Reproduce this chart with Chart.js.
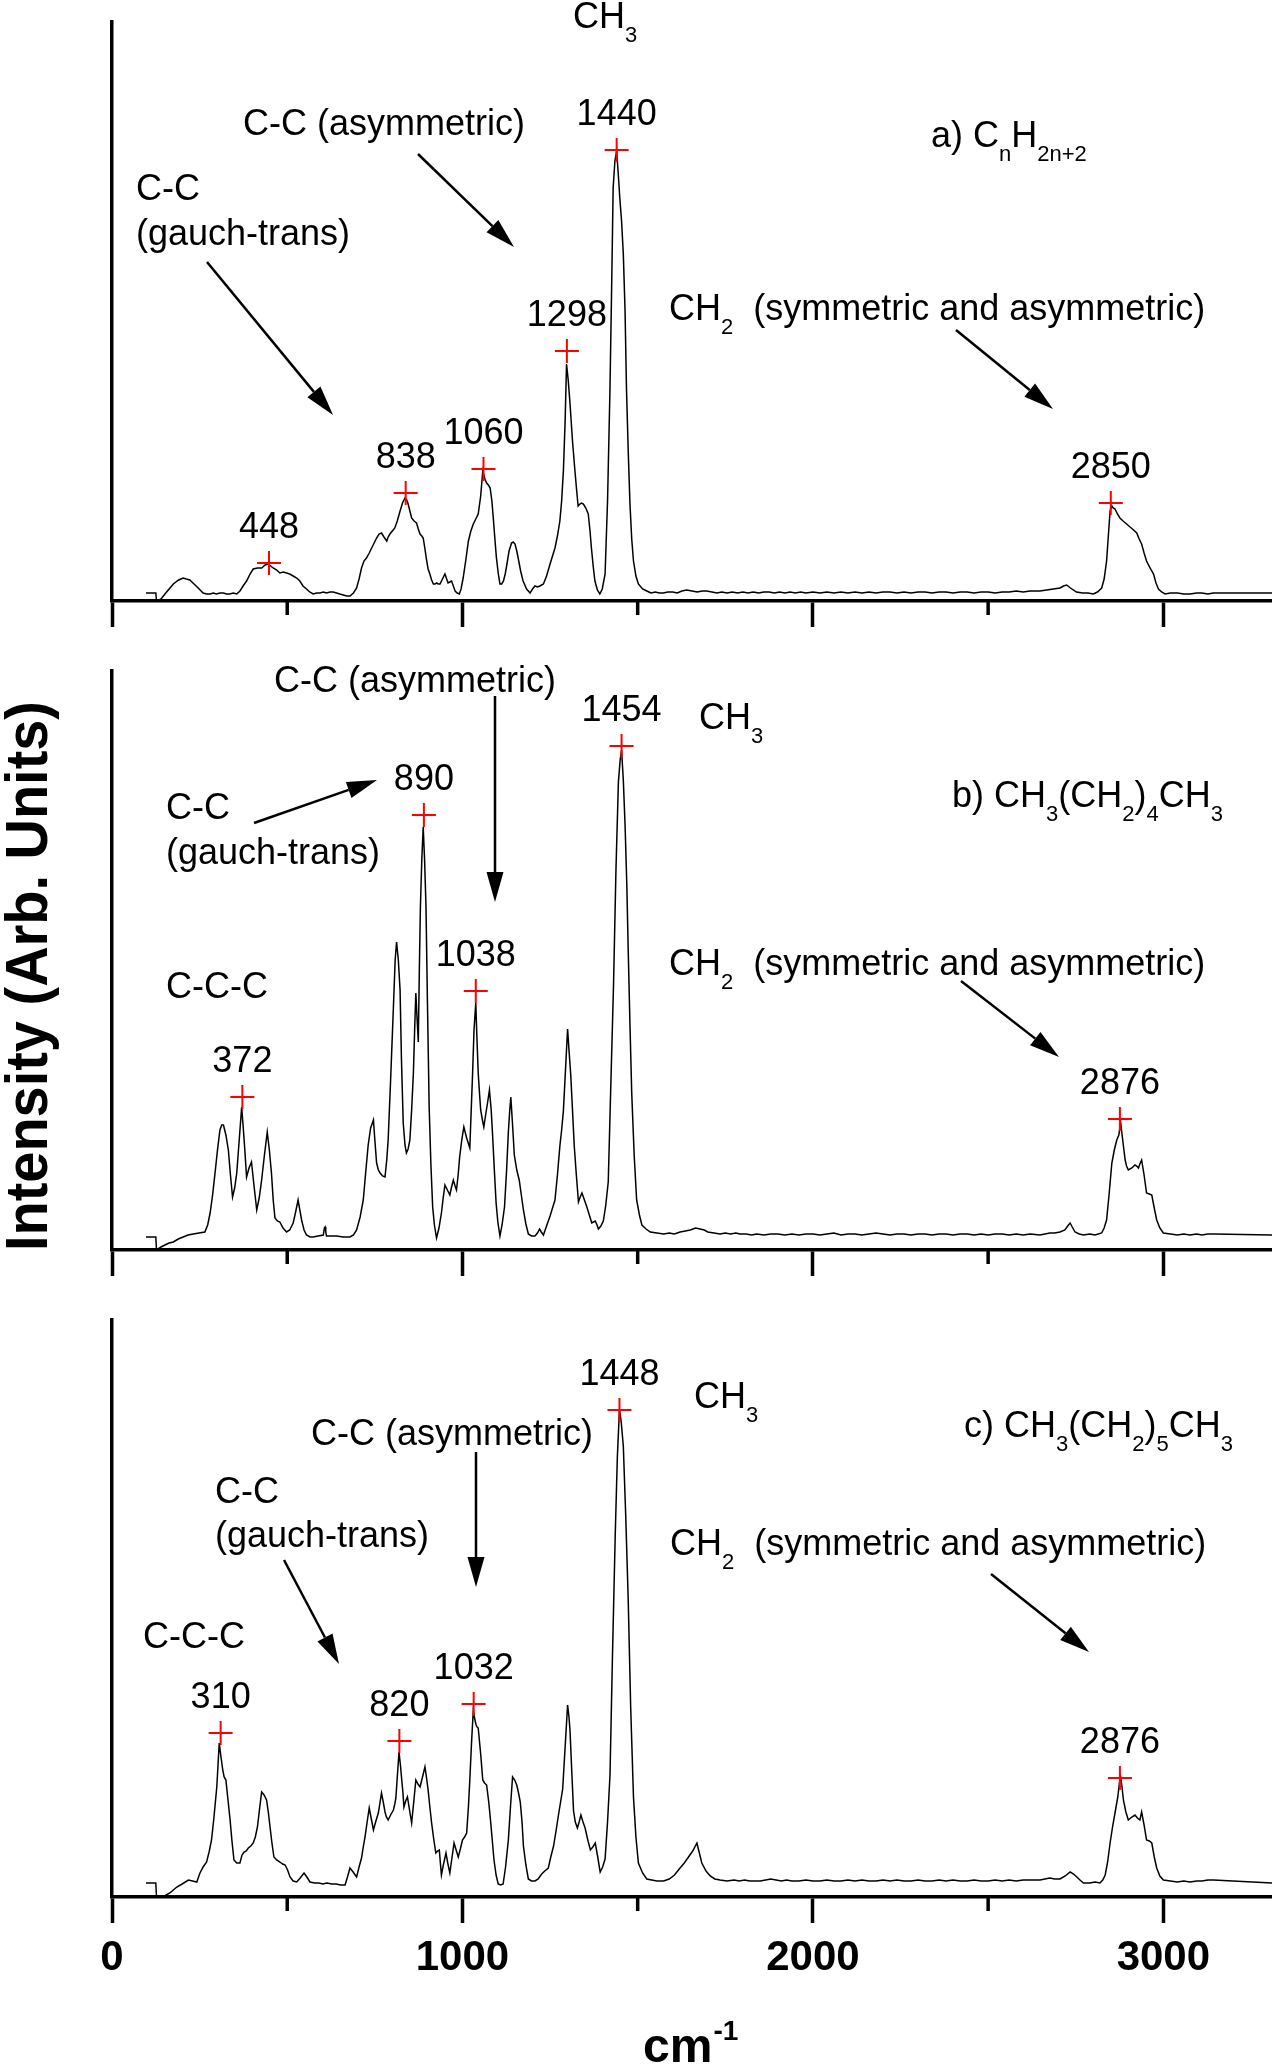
<!DOCTYPE html>
<html>
<head>
<meta charset="utf-8">
<script src="https://cdn.jsdelivr.net/npm/chart.js@4.4.1/dist/chart.umd.min.js"></script>
<style>
  html, body { margin: 0; padding: 0; background: #fff; }
  #Page { position: relative; width: 1272px; height: 2069px; overflow: hidden; background: #fff; }
  #Page canvas { position: absolute; left: 0; }
</style>
</head>
<body>
<div id="Page">
  <canvas id="Panel_A" width="1272" height="660" style="top:0px"></canvas>
  <canvas id="Panel_B" width="1272" height="640" style="top:660px"></canvas>
  <canvas id="Panel_C" width="1272" height="769" style="top:1300px"></canvas>
</div>
<script>
// Raman shift (cm-1), intensity (arb. units)
const Spectrum_A = [[97,8],[125,8],[127,0],[140,2],[151,7],[163,12],[175,17],[190,21],[203,23],[212,22],[222,21],[234,17],[246,13],[260,8],[270,7],[280,7],[289,8],[298,7],[308,8],[318,8],[327,7],[336,7],[346,8],[356,7],[365,10],[374,15],[384,20],[394,27],[403,32],[415,33],[427,33],[437,36],[446,37],[453,35],[460,33],[470,31],[479,28],[489,29],[498,28],[507,27],[517,25],[527,23],[536,20],[545,15],[555,12],[564,9],[574,7],[584,8],[593,8],[603,9],[612,8],[622,9],[631,9],[641,8],[650,7],[660,6],[670,5],[679,5],[689,8],[698,13],[705,22],[712,33],[719,40],[726,43],[734,48],[741,53],[748,58],[755,63],[762,67],[769,68],[776,64],[784,60],[788,64],[793,67],[800,70],[807,73],[814,80],[822,90],[829,98],[836,103],[841,101],[845,97],[850,90],[855,83],[862,80],[869,78],[874,72],[879,67],[884,65],[888,63],[893,52],[898,40],[902,32],[907,27],[912,21],[917,17],[922,17],[926,18],[931,17],[936,17],[943,22],[950,27],[955,22],[959,18],[964,19],[969,20],[974,15],[979,10],[985,8],[991,7],[996,12],[1002,23],[1010,42],[1017,60],[1024,70],[1031,77],[1038,82],[1045,87],[1052,105],[1058,130],[1064,122],[1069,118],[1074,116],[1079,113],[1084,100],[1088,83],[1093,60],[1097,43],[1102,28],[1107,17],[1112,17],[1117,20],[1122,27],[1126,35],[1133,50],[1140,58],[1145,59],[1150,57],[1155,50],[1159,43],[1166,30],[1173,20],[1183,12],[1193,8],[1200,12],[1207,15],[1214,14],[1221,15],[1231,17],[1240,25],[1250,37],[1257,45],[1264,53],[1271,65],[1278,80],[1283,100],[1288,130],[1293,180],[1297,237],[1302,220],[1307,197],[1314,160],[1321,130],[1326,110],[1330,95],[1335,97],[1340,98],[1345,97],[1352,93],[1359,87],[1364,70],[1368,53],[1373,35],[1378,20],[1385,11],[1392,7],[1399,12],[1407,27],[1414,100],[1421,213],[1426,320],[1430,413],[1435,440],[1440,450],[1445,425],[1449,403],[1454,380],[1459,347],[1464,290],[1468,213],[1473,150],[1478,97],[1483,62],[1488,40],[1495,25],[1502,17],[1514,12],[1526,10],[1538,8],[1550,9],[1562,8],[1573,8],[1586,9],[1600,9],[1613,8],[1626,10],[1640,11],[1655,10],[1670,9],[1684,10],[1697,10],[1712,9],[1726,8],[1740,9],[1755,8],[1770,9],[1785,8],[1800,9],[1815,8],[1830,9],[1845,8],[1860,9],[1875,9],[1890,8],[1905,9],[1920,8],[1935,9],[1950,8],[1965,9],[1980,8],[2000,9],[2020,8],[2040,9],[2060,8],[2080,9],[2100,8],[2120,9],[2140,8],[2160,9],[2180,8],[2200,9],[2220,9],[2240,8],[2260,9],[2280,8],[2300,9],[2320,9],[2340,8],[2360,9],[2380,9],[2400,8],[2420,9],[2440,9],[2460,8],[2480,9],[2500,9],[2520,8],[2540,9],[2560,9],[2580,10],[2600,9],[2620,10],[2648,10],[2667,11],[2686,12],[2705,13],[2715,15],[2724,16],[2735,13],[2752,9],[2770,8],[2785,8],[2800,7],[2812,9],[2824,13],[2831,22],[2838,40],[2843,65],[2848,90],[2853,95],[2857,93],[2862,92],[2869,87],[2876,83],[2885,80],[2895,77],[2905,74],[2915,71],[2924,68],[2931,62],[2938,57],[2945,48],[2952,40],[2962,33],[2972,27],[2979,18],[2986,12],[2995,9],[3005,7],[3020,8],[3040,8],[3058,7],[3076,7],[3095,8],[3110,8],[3127,7],[3143,8],[3160,8],[3181,8],[3310,8]];

const Spectrum_B = [[97,13],[125,13],[127,0],[140,3],[151,5],[163,7],[175,8],[189,11],[203,13],[217,15],[232,16],[248,17],[265,18],[273,25],[280,37],[287,55],[294,77],[301,100],[308,120],[313,125],[318,125],[325,115],[332,100],[338,75],[344,53],[350,62],[356,77],[363,110],[370,143],[375,120],[379,100],[384,73],[391,82],[398,88],[405,65],[413,40],[420,52],[427,70],[435,95],[443,118],[449,100],[455,77],[460,50],[465,32],[472,29],[479,28],[488,22],[498,18],[507,20],[517,27],[524,38],[531,50],[536,40],[541,30],[548,20],[555,15],[565,13],[574,13],[588,14],[603,15],[606,22],[608,23],[610,18],[612,14],[626,14],[641,14],[660,13],[679,13],[689,15],[698,20],[708,33],[717,50],[724,78],[731,105],[738,122],[746,130],[750,110],[755,87],[760,80],[765,77],[772,74],[779,73],[784,90],[788,110],[795,170],[803,243],[808,290],[812,308],[817,290],[822,260],[826,190],[831,127],[836,105],[840,97],[845,101],[850,110],[855,140],[860,177],[864,225],[867,257],[870,235],[874,208],[877,280],[880,343],[884,390],[888,423],[892,390],[896,343],[900,250],[905,143],[910,85],[915,43],[920,25],[926,12],[933,22],[940,37],[945,52],[950,65],[957,60],[964,55],[969,63],[974,70],[979,64],[983,60],[988,76],[992,93],[998,110],[1004,123],[1012,112],[1021,102],[1025,140],[1029,177],[1033,220],[1038,247],[1041,215],[1045,177],[1049,155],[1052,140],[1057,130],[1061,123],[1064,130],[1067,137],[1072,148],[1077,160],[1082,140],[1086,115],[1091,80],[1096,47],[1101,28],[1107,14],[1113,25],[1120,43],[1126,80],[1131,118],[1135,140],[1138,153],[1143,125],[1148,95],[1155,80],[1162,70],[1168,55],[1174,40],[1181,26],[1188,16],[1197,14],[1207,14],[1214,17],[1220,21],[1225,18],[1231,15],[1240,24],[1250,34],[1257,42],[1264,50],[1271,75],[1278,104],[1283,120],[1288,139],[1294,180],[1300,221],[1304,200],[1309,175],[1314,140],[1319,104],[1325,75],[1331,48],[1336,53],[1341,57],[1348,50],[1355,43],[1362,35],[1369,27],[1374,28],[1379,29],[1384,25],[1388,21],[1395,24],[1402,29],[1409,45],[1416,68],[1423,160],[1431,264],[1438,380],[1445,468],[1450,490],[1454,500],[1459,470],[1464,425],[1469,365],[1473,300],[1478,225],[1483,157],[1490,95],[1497,50],[1505,35],[1512,25],[1524,21],[1536,18],[1555,17],[1574,16],[1590,17],[1605,16],[1621,18],[1636,19],[1650,20],[1665,22],[1678,21],[1690,20],[1700,18],[1718,17],[1735,16],[1750,17],[1765,16],[1780,17],[1792,16],[1810,16],[1825,15],[1840,16],[1860,15],[1880,16],[1900,16],[1920,15],[1940,16],[1960,15],[1980,16],[2000,16],[2020,15],[2040,16],[2060,17],[2080,15],[2100,16],[2120,16],[2140,15],[2160,16],[2180,17],[2200,16],[2220,15],[2240,16],[2260,16],[2280,15],[2300,16],[2320,16],[2340,15],[2360,16],[2380,16],[2400,15],[2420,16],[2440,16],[2460,15],[2480,16],[2500,15],[2520,16],[2540,16],[2560,15],[2580,16],[2600,15],[2620,16],[2648,15],[2662,16],[2676,17],[2690,17],[2705,18],[2719,20],[2727,24],[2734,27],[2740,23],[2748,18],[2760,16],[2772,15],[2790,16],[2805,15],[2824,17],[2831,22],[2838,30],[2845,55],[2853,87],[2860,100],[2867,110],[2873,115],[2878,128],[2884,110],[2891,90],[2895,84],[2900,80],[2910,82],[2919,85],[2924,84],[2929,82],[2933,86],[2938,90],[2945,75],[2952,57],[2960,56],[2967,55],[2974,42],[2981,30],[2990,22],[3000,17],[3020,16],[3040,15],[3058,16],[3076,15],[3095,16],[3110,15],[3127,16],[3143,16],[3310,15]];

const Spectrum_C = [[97,14],[125,14],[127,0],[150,1],[165,4],[175,7],[185,10],[200,13],[218,17],[230,16],[242,15],[247,20],[251,24],[260,30],[270,35],[277,45],[284,57],[291,80],[299,110],[303,135],[306,154],[311,140],[316,127],[320,120],[325,117],[331,97],[337,77],[342,57],[348,37],[356,34],[365,34],[371,42],[377,45],[383,46],[389,49],[396,51],[403,54],[409,60],[415,70],[421,88],[427,105],[434,102],[441,97],[446,85],[451,70],[456,55],[462,40],[470,37],[479,35],[487,33],[494,32],[501,27],[508,20],[517,16],[527,15],[537,19],[548,24],[556,20],[565,15],[578,14],[590,14],[602,13],[613,14],[627,13],[640,13],[652,12],[665,12],[672,20],[679,29],[688,25],[698,20],[705,30],[712,39],[717,50],[722,60],[728,75],[734,89],[740,78],[746,67],[753,76],[760,84],[765,95],[769,104],[774,95],[779,85],[783,80],[788,77],[795,82],[803,87],[807,93],[810,99],[815,125],[819,145],[823,132],[826,120],[830,105],[833,90],[838,96],[843,100],[849,87],[855,74],[861,95],[867,117],[873,113],[879,110],[886,120],[893,130],[898,118],[902,107],[907,90],[912,74],[918,58],[924,44],[929,46],[934,47],[937,34],[940,22],[946,33],[953,44],[958,34],[964,24],[970,39],[976,54],[982,47],[988,40],[994,48],[1000,57],[1006,60],[1012,64],[1017,90],[1021,117],[1026,155],[1031,187],[1035,178],[1039,172],[1042,170],[1045,169],[1052,143],[1058,117],[1063,114],[1069,112],[1075,95],[1080,77],[1085,57],[1090,37],[1096,22],[1102,13],[1109,12],[1116,13],[1123,30],[1131,57],[1137,90],[1143,120],[1149,117],[1155,112],[1160,104],[1165,95],[1170,75],[1174,51],[1181,32],[1188,18],[1197,16],[1207,16],[1216,18],[1226,23],[1235,26],[1245,29],[1252,40],[1260,51],[1267,66],[1274,82],[1280,95],[1286,108],[1293,150],[1300,192],[1304,180],[1307,166],[1312,125],[1317,86],[1322,75],[1328,69],[1333,75],[1338,82],[1344,75],[1350,69],[1357,58],[1365,47],[1372,50],[1379,54],[1386,40],[1393,25],[1400,30],[1407,38],[1414,75],[1421,122],[1428,240],[1436,363],[1442,440],[1448,488],[1453,475],[1459,451],[1466,380],[1473,297],[1480,190],[1488,100],[1495,60],[1502,34],[1514,24],[1526,18],[1540,17],[1555,16],[1574,16],[1590,18],[1605,22],[1621,29],[1633,34],[1645,40],[1657,46],[1669,54],[1676,44],[1683,34],[1695,26],[1707,21],[1720,18],[1735,17],[1755,16],[1775,17],[1790,16],[1805,17],[1820,16],[1835,16],[1850,16],[1865,17],[1880,18],[1895,17],[1910,16],[1925,17],[1940,16],[1960,16],[1980,17],[2000,16],[2020,16],[2040,17],[2060,16],[2080,16],[2100,17],[2120,16],[2140,17],[2160,16],[2180,16],[2200,17],[2220,16],[2240,17],[2260,16],[2280,16],[2300,17],[2320,16],[2340,16],[2360,17],[2380,16],[2400,17],[2420,16],[2440,16],[2460,17],[2480,16],[2500,16],[2520,17],[2540,16],[2560,17],[2580,16],[2600,17],[2620,17],[2648,17],[2662,18],[2676,19],[2690,18],[2705,18],[2720,21],[2734,25],[2744,23],[2753,20],[2762,17],[2772,14],[2790,14],[2805,15],[2819,14],[2827,17],[2834,22],[2841,35],[2848,54],[2855,70],[2862,84],[2870,100],[2875,115],[2878,120],[2882,110],[2886,97],[2893,85],[2900,77],[2910,80],[2919,82],[2926,79],[2933,77],[2938,85],[2945,72],[2952,57],[2960,56],[2967,54],[2974,40],[2981,29],[2990,21],[3000,17],[3020,16],[3040,15],[3058,16],[3076,15],[3095,16],[3110,16],[3127,17],[3143,17],[3310,14]];

// marked peaks
const Peak_A_X = [448, 838, 1060, 1298, 1440, 2850];
const Peak_A_Y = [38, 108, 132, 250, 451, 98];
const Peak_B_X = [372, 890, 1038, 1454, 2876];
const Peak_B_Y = [153, 435, 259, 504, 131];
const Peak_C_X = [310, 820, 1032, 1448, 2876];
const Peak_C_Y = [164, 156, 193, 487, 119];

const X_Tick_Values = [0, 1000, 2000, 3000];
const X_Minor_Values = [500, 1500, 2500];
const X_Max = 3310;

const FONT = "'Liberation Sans', Arial, Helvetica, sans-serif";
const NOTE_SIZE = 36;
const SUB_SIZE = 22;

Chart.defaults.font.family = FONT;

function Draw_Rich(Ctx, X, Y, Parts) {
    let Cur = X;
    Parts.forEach(function (P) {
        const Is_Sub = P[1] === 1;
        Ctx.font = (Is_Sub ? SUB_SIZE : NOTE_SIZE) + "px " + FONT;
        Ctx.fillText(P[0], Cur, Is_Sub ? Y + 14 : Y);
        Cur += Ctx.measureText(P[0]).width;
    });
}

function Draw_Arrow(Ctx, X1, Y1, X2, Y2) {
    const Ang = Math.atan2(Y2 - Y1, X2 - X1);
    const Len = 30, Half = 8.5;
    const Bx = X2 - Len * Math.cos(Ang), By = Y2 - Len * Math.sin(Ang);
    Ctx.lineWidth = 2.5;
    Ctx.beginPath();
    Ctx.moveTo(X1, Y1);
    Ctx.lineTo(Bx, By);
    Ctx.stroke();
    Ctx.beginPath();
    Ctx.moveTo(X2, Y2);
    Ctx.lineTo(Bx + Half * Math.sin(Ang), By - Half * Math.cos(Ang));
    Ctx.lineTo(Bx - Half * Math.sin(Ang), By + Half * Math.cos(Ang));
    Ctx.closePath();
    Ctx.fill();
}

function Make_Note_Plugin(Page_Top, Peak_X, Peak_Y, Notes, Arrows, Extra) {
    return {
        id: "Notes_" + Page_Top,
        afterDraw: function (Chart_Obj) {
            const Ctx = Chart_Obj.ctx;
            const X_Scale = Chart_Obj.scales.x;
            const Y_Scale = Chart_Obj.scales.y;
            const Area = Chart_Obj.chartArea;
            Ctx.save();
            Ctx.fillStyle = "#000";
            Ctx.strokeStyle = "#000";

            // minor ticks (shorter than the major ones)
            Ctx.lineWidth = 3.5;
            X_Minor_Values.forEach(function (V) {
                const Px = X_Scale.getPixelForValue(V);
                Ctx.beginPath();
                Ctx.moveTo(Px, Area.bottom);
                Ctx.lineTo(Px, Area.bottom + 14);
                Ctx.stroke();
            });

            // peak position labels
            Ctx.font = NOTE_SIZE + "px " + FONT;
            Ctx.textAlign = "center";
            Ctx.textBaseline = "alphabetic";
            Peak_X.forEach(function (V, I) {
                Ctx.fillText(String(V), X_Scale.getPixelForValue(V), Y_Scale.getPixelForValue(Peak_Y[I]) - 25);
            });

            // band assignments
            Ctx.textAlign = "left";
            Ctx.translate(0, -Page_Top);
            Notes.forEach(function (N) { Draw_Rich(Ctx, N.X, N.Y, N.Parts); });
            Arrows.forEach(function (A) { Draw_Arrow(Ctx, A[0], A[1], A[2], A[3]); });
            if (Extra) Extra(Ctx);
            Ctx.restore();
        }
    };
}

function Make_Panel(Canvas_Id, Spectrum, Peak_X, Peak_Y, Y_Max, Page_Top, Pad_Top, X_Box, Show_Labels, Notes, Arrows, Extra) {
    const Canvas = document.getElementById(Canvas_Id);
    return new Chart(Canvas, {
        type: "line",
        data: {
            datasets: [{
                data: Peak_X.map(function (V, I) { return { x: V, y: Peak_Y[I] }; }),
                showLine: false,
                pointStyle: "cross",
                pointRadius: 12,
                pointBorderColor: "#ff0000",
                pointBackgroundColor: "#ff0000",
                pointBorderWidth: 2,
                clip: false
            }, {
                data: Spectrum.map(function (P) { return { x: P[0], y: P[1] }; }),
                borderColor: "#000",
                borderWidth: 1.5,
                pointRadius: 0,
                tension: 0,
                fill: false
            }]
        },
        options: {
            responsive: false,
            animation: false,
            events: [],
            layout: { autoPadding: false, padding: { top: Pad_Top, left: 0, right: 0, bottom: 0 } },
            plugins: { legend: { display: false }, tooltip: { enabled: false } },
            scales: {
                x: {
                    type: "linear",
                    min: 0,
                    max: X_Max,
                    afterBuildTicks: function (S) { S.ticks = X_Tick_Values.map(function (V) { return { value: V }; }); },
                    afterFit: function (S) { S.height = X_Box; S.paddingLeft = 0; S.paddingRight = 0; },
                    border: { display: true, color: "#000", width: 3.5 },
                    grid: { display: true, drawOnChartArea: false, drawTicks: true, tickLength: 26, tickWidth: 3.5, tickColor: "#000" },
                    ticks: {
                        display: Show_Labels,
                        padding: 10,
                        color: "#000",
                        maxRotation: 0,
                        autoSkip: false,
                        font: { family: FONT, size: 42, weight: "bold" },
                        callback: function (V) { return String(V); }
                    }
                },
                y: {
                    min: 0,
                    max: Y_Max,
                    afterFit: function (S) { S.width = 112; },
                    border: { display: true, color: "#000", width: 3.5 },
                    grid: { display: false },
                    ticks: { display: false }
                }
            }
        },
        plugins: [Make_Note_Plugin(Page_Top, Peak_X, Peak_Y, Notes, Arrows, Extra)]
    });
}

const Notes_A = [
    { X: 573, Y: 28, Parts: [["CH", 0], ["3", 1]] },
    { X: 243, Y: 135, Parts: [["C-C (asymmetric)", 0]] },
    { X: 931, Y: 147, Parts: [["a) C", 0], ["n", 1], ["H", 0], ["2n+2", 1]] },
    { X: 136, Y: 200, Parts: [["C-C", 0]] },
    { X: 136, Y: 245, Parts: [["(gauch-trans)", 0]] },
    { X: 669, Y: 320, Parts: [["CH", 0], ["2", 1], ["  (symmetric and asymmetric)", 0]] }
];
const Arrows_A = [[207, 262, 333, 415], [418, 154, 514, 247], [956, 330, 1053, 409]];

const Notes_B = [
    { X: 274, Y: 692, Parts: [["C-C (asymmetric)", 0]] },
    { X: 699, Y: 729, Parts: [["CH", 0], ["3", 1]] },
    { X: 952, Y: 807, Parts: [["b) CH", 0], ["3", 1], ["(CH", 0], ["2", 1], [")", 0], ["4", 1], ["CH", 0], ["3", 1]] },
    { X: 166, Y: 819, Parts: [["C-C", 0]] },
    { X: 166, Y: 864, Parts: [["(gauch-trans)", 0]] },
    { X: 166, Y: 998, Parts: [["C-C-C", 0]] },
    { X: 669, Y: 975, Parts: [["CH", 0], ["2", 1], ["  (symmetric and asymmetric)", 0]] }
];
const Arrows_B = [[495, 696, 495, 902], [254, 823, 377, 780], [961, 981, 1059, 1057]];

const Notes_C = [
    { X: 694, Y: 1408, Parts: [["CH", 0], ["3", 1]] },
    { X: 964, Y: 1437, Parts: [["c) CH", 0], ["3", 1], ["(CH", 0], ["2", 1], [")", 0], ["5", 1], ["CH", 0], ["3", 1]] },
    { X: 311, Y: 1445, Parts: [["C-C (asymmetric)", 0]] },
    { X: 215, Y: 1503, Parts: [["C-C", 0]] },
    { X: 215, Y: 1547, Parts: [["(gauch-trans)", 0]] },
    { X: 143, Y: 1648, Parts: [["C-C-C", 0]] },
    { X: 670, Y: 1555, Parts: [["CH", 0], ["2", 1], ["  (symmetric and asymmetric)", 0]] }
];
const Arrows_C = [[476, 1452, 476, 1587], [284, 1560, 339, 1664], [991, 1574, 1089, 1652]];

function Draw_Y_Title(Ctx) {
    const Text = "Intensity (Arb. Units)";
    Ctx.save();
    Ctx.font = "bold 60px " + FONT;
    const W = Ctx.measureText(Text).width;
    Ctx.translate(47, 976);
    Ctx.rotate(-Math.PI / 2);
    Ctx.scale(550 / W, 1);
    Ctx.textAlign = "center";
    Ctx.textBaseline = "alphabetic";
    Ctx.fillText(Text, 0, 0);
    Ctx.restore();
}

function Draw_X_Title(Ctx) {
    Ctx.save();
    Ctx.textAlign = "left";
    Ctx.textBaseline = "alphabetic";
    Ctx.font = "bold 48px " + FONT;
    Ctx.fillText("cm", 643, 2062);
    const W = Ctx.measureText("cm").width;
    Ctx.font = "bold 28px " + FONT;
    Ctx.fillText("-1", 643 + W + 1, 2040);
    Ctx.restore();
}

Make_Panel("Panel_A", Spectrum_A, Peak_A_X, Peak_A_Y, 579, 0, 22, 59, false, Notes_A, Arrows_A, null);
Make_Panel("Panel_B", Spectrum_B, Peak_B_X, Peak_B_Y, 579, 660, 11, 50, false, Notes_B, Arrows_B, Draw_Y_Title);
Make_Panel("Panel_C", Spectrum_C, Peak_C_X, Peak_C_Y, 577, 1300, 20, 172, true, Notes_C, Arrows_C, Draw_X_Title);
</script>
</body>
</html>
